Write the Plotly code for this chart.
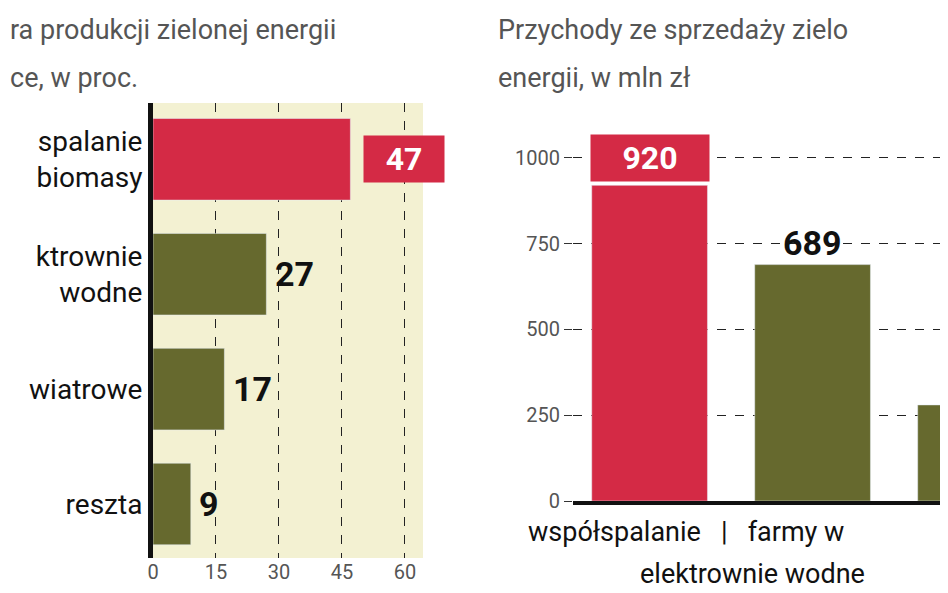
import plotly.graph_objects as go

# left panel: share of green energy production, %
left_cats = ['reszta', 'wiatrowe', 'elektrownie wodne', 'współspalanie biomasy']
left_labels = ['reszta', 'wiatrowe', 'ktrownie<br>wodne', 'spalanie<br>biomasy']
left_vals = [9, 17, 27, 47]

# right panel: revenue, mln zł
right_cats = ['współspalanie', 'elektrownie wodne', 'farmy wiatrowe']
right_vals = [920, 689, 280]
right_text = ['920', '689', '280']

red = '#d42a45'
olive = '#66692e'
font = 'Liberation Sans Narrow, Roboto, sans-serif'
H = 593.0

def py(p):
    return 1 - p / H

fig = go.Figure()

fig.add_trace(go.Bar(
    x=left_vals, y=list(range(len(left_cats))), orientation='h',
    marker_color=[olive, olive, olive, red], width=0.71,
    xaxis='x', yaxis='y', showlegend=False))

fig.add_trace(go.Bar(
    x=list(range(len(right_cats))), y=right_vals,
    marker_color=[red, olive, olive], width=0.71,
    xaxis='x2', yaxis='y2', showlegend=False))

fig.update_layout(
    width=948, height=593, margin=dict(l=0, r=0, t=0, b=0),
    paper_bgcolor='white', plot_bgcolor='rgba(0,0,0,0)',
    font=dict(family=font, color='#333'),
    xaxis=dict(domain=[145/948, 415/948], range=[0, 64.3],
               tickvals=[0, 15, 30, 45, 60], ticks='', showgrid=True,
               gridcolor='#222', griddash='dash', gridwidth=1,
               tickfont=dict(size=20, color='#555'), zeroline=False,
               automargin=False, anchor='y'),
    yaxis=dict(domain=[py(550), py(95)], range=[-0.47, 3.49],
               tickvals=list(range(len(left_cats))), ticktext=left_labels,
               tickfont=dict(size=28, color='#111'), ticks='',
               showline=True, linecolor='#111', linewidth=5,
               showgrid=False, automargin=False, anchor='x'),
    xaxis2=dict(domain=[565/948, 1.0], range=[-0.47, 1.88],
                showticklabels=False, ticks='', showgrid=False,
                showline=True, linecolor='#111', linewidth=4,
                automargin=False, anchor='y2'),
    yaxis2=dict(domain=[py(493), py(130)], range=[0, 1058],
                tickvals=[0, 250, 500, 750, 1000], ticks='outside',
                ticklen=8, tickcolor='#333',
                tickfont=dict(size=20, color='#555'),
                showgrid=True, gridcolor='#222', griddash='dash',
                zeroline=False, automargin=False, anchor='x2'),
    bargap=0.3,
)

# yellowish background of left panel
fig.add_shape(type='rect', xref='paper', yref='paper', layer='below',
              x0=145/948, x1=415/948, y0=py(550), y1=py(95),
              fillcolor='#f3f1d2', line_width=0)

# left value labels
for i, v in enumerate(left_vals):
    if i == 3:
        fig.add_annotation(x=v + 3, y=i, xref='x', yref='y', text='<b>%d</b>' % v,
                           showarrow=False, xanchor='left',
                           font=dict(size=32, color='white'),
                           bgcolor=red, borderpad=4, width=72)
    else:
        fig.add_annotation(x=v + 1.5, y=i, xref='x', yref='y', text='<b>%d</b>' % v,
                           showarrow=False, xanchor='left',
                           font=dict(size=34, color='#111'))

# right value labels
for i, (v, t) in enumerate(zip(right_vals, right_text)):
    if i == 0:
        fig.add_annotation(x=i, y=1000, xref='x2', yref='y2', text='<b>%s</b>' % t,
                           showarrow=False, yanchor='middle',
                           font=dict(size=32, color='white'),
                           bgcolor=red, borderpad=4, width=110)
    else:
        fig.add_annotation(x=i, y=v, xref='x2', yref='y2', text='<b>%s</b>' % t,
                           showarrow=False, yanchor='bottom',
                           font=dict(size=34, color='#111'))

# titles
for x, y, t in [(0, 22, 'ra produkcji zielonej energii'), (0, 70, 'ce, w proc.'),
                (488, 22, 'Przychody ze sprzedaży zielo'), (488, 70, 'energii, w mln zł')]:
    fig.add_annotation(x=x/948, y=py(y), xref='paper', yref='paper', text=t,
                       showarrow=False, xanchor='left', yanchor='middle',
                       font=dict(size=27, color='#555'))

# right category labels
fig.add_annotation(x=518/948, y=py(524), xref='paper', yref='paper',
                   text='współspalanie   |   farmy w', showarrow=False,
                   xanchor='left', yanchor='middle', font=dict(size=27, color='#111'))
fig.add_annotation(x=630/948, y=py(566), xref='paper', yref='paper',
                   text='elektrownie wodne', showarrow=False,
                   xanchor='left', yanchor='middle', font=dict(size=27, color='#111'))

fig.write_html('out.html')
